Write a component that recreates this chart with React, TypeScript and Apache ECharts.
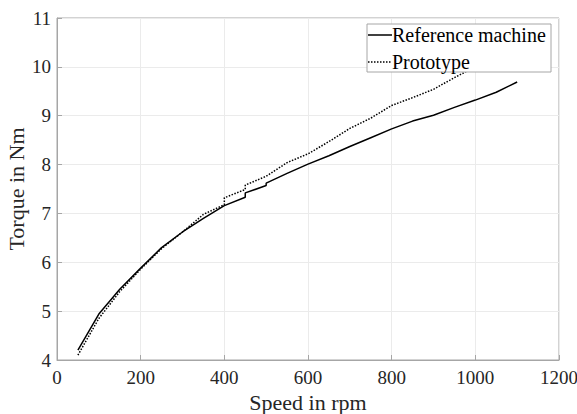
import React, { useEffect, useRef } from "react";
import * as echarts from "echarts";

const refSpeed = [50, 100, 150, 200, 250, 300, 350, 400, 450, 450, 500, 500, 550, 600, 650, 700, 750, 800, 850, 900, 950, 1000, 1050, 1100];
const refTorque = [4.2, 4.94, 5.45, 5.88, 6.3, 6.62, 6.9, 7.16, 7.33, 7.42, 7.57, 7.62, 7.82, 8.01, 8.18, 8.37, 8.55, 8.73, 8.89, 9.01, 9.17, 9.32, 9.48, 9.69];
const protoSpeed = [50, 100, 150, 200, 250, 300, 350, 400, 400, 450, 450, 500, 550, 600, 650, 700, 750, 800, 850, 900, 950, 1000, 1050, 1100];
const protoTorque = [4.1, 4.85, 5.4, 5.86, 6.28, 6.62, 6.98, 7.18, 7.32, 7.49, 7.58, 7.76, 8.04, 8.22, 8.47, 8.74, 8.95, 9.21, 9.37, 9.54, 9.78, 10.0, 10.25, 10.5];
const seriesNames = ["Reference machine", "Prototype"];
const xTicks = [0, 200, 400, 600, 800, 1000, 1200];
const yTicks = [4, 5, 6, 7, 8, 9, 10, 11];

const FONT = "'Liberation Serif', 'Times New Roman', serif";

export default function App() {
  const ref = useRef<HTMLDivElement>(null);
  useEffect(() => {
    if (!ref.current) return;
    const chart = echarts.init(ref.current, null, { renderer: "svg" });
    const lgX = 367, lgY = 24, lgW = 184, lgH = 48;
    const rowY = [35, 62];
    chart.setOption({
      animation: false,
      backgroundColor: "#fff",
      textStyle: { fontFamily: FONT },
      grid: {
        left: 57, right: 18, top: 18, bottom: 54,
        containLabel: false, outerBoundsMode: "none",
        show: true, borderColor: "#a6a6a6", borderWidth: 1, backgroundColor: "transparent",
      },
      xAxis: {
        type: "value",
        min: xTicks[0],
        max: xTicks[xTicks.length - 1],
        interval: xTicks[1] - xTicks[0],
        name: "Speed in rpm",
        nameLocation: "middle",
        nameGap: 31,
        nameMoveOverlap: false,
        nameTextStyle: { fontFamily: FONT, fontSize: 22, color: "#262626" },
        axisLine: { show: true, lineStyle: { color: "#a6a6a6" } },
        axisTick: { show: true, inside: true, length: 5, lineStyle: { color: "#a6a6a6" } },
        axisLabel: { fontFamily: FONT, fontSize: 19, color: "#262626", margin: 8, formatter: (v: number) => String(v) },
        splitLine: { show: true, lineStyle: { color: "#ebebeb" } },
      },
      yAxis: {
        type: "value",
        min: yTicks[0],
        max: yTicks[yTicks.length - 1],
        interval: yTicks[1] - yTicks[0],
        name: "Torque in Nm",
        nameLocation: "middle",
        nameGap: 30,
        nameMoveOverlap: false,
        nameTextStyle: { fontFamily: FONT, fontSize: 22, color: "#262626" },
        axisLine: { show: true, lineStyle: { color: "#a6a6a6" } },
        axisTick: { show: true, inside: true, length: 5, lineStyle: { color: "#a6a6a6" } },
        axisLabel: { fontFamily: FONT, fontSize: 19, color: "#262626", margin: 6, formatter: (v: number) => String(v) },
        splitLine: { show: true, lineStyle: { color: "#ebebeb" } },
      },
      graphic: [
        { type: "rect", z: 100, shape: { x: lgX, y: lgY, width: lgW, height: lgH }, style: { fill: "#fff", stroke: "#a6a6a6", lineWidth: 1 } },
        { type: "line", z: 101, shape: { x1: lgX + 1, y1: rowY[0], x2: lgX + 25, y2: rowY[0] }, style: { stroke: "#000", lineWidth: 1.5 } },
        { type: "line", z: 101, shape: { x1: lgX + 1, y1: rowY[1], x2: lgX + 25, y2: rowY[1] }, style: { stroke: "#000", lineWidth: 1.5, lineDash: [1.5, 1.5] } },
        { type: "text", z: 101, x: lgX + 25, y: rowY[0], style: { text: seriesNames[0], fontFamily: FONT, fontSize: 20, fill: "#000", verticalAlign: "middle", align: "left" } },
        { type: "text", z: 101, x: lgX + 25, y: rowY[1], style: { text: seriesNames[1], fontFamily: FONT, fontSize: 20, fill: "#000", verticalAlign: "middle", align: "left" } },
      ],
      series: [
        {
          name: seriesNames[0],
          type: "line",
          symbol: "none",
          z: 3,
          data: refSpeed.map((s, i) => [s, refTorque[i]]),
          lineStyle: { color: "#000", width: 1.5, type: "solid" },
        },
        {
          name: seriesNames[1],
          type: "line",
          symbol: "none",
          z: 2,
          data: protoSpeed.map((s, i) => [s, protoTorque[i]]),
          lineStyle: { color: "#000", width: 1.5, type: [1.5, 1.5] },
        },
      ],
    });
    return () => chart.dispose();
  }, []);
  return <div ref={ref} style={{ width: 577, height: 414, position: "absolute", left: 0, top: 0 }} />;
}
